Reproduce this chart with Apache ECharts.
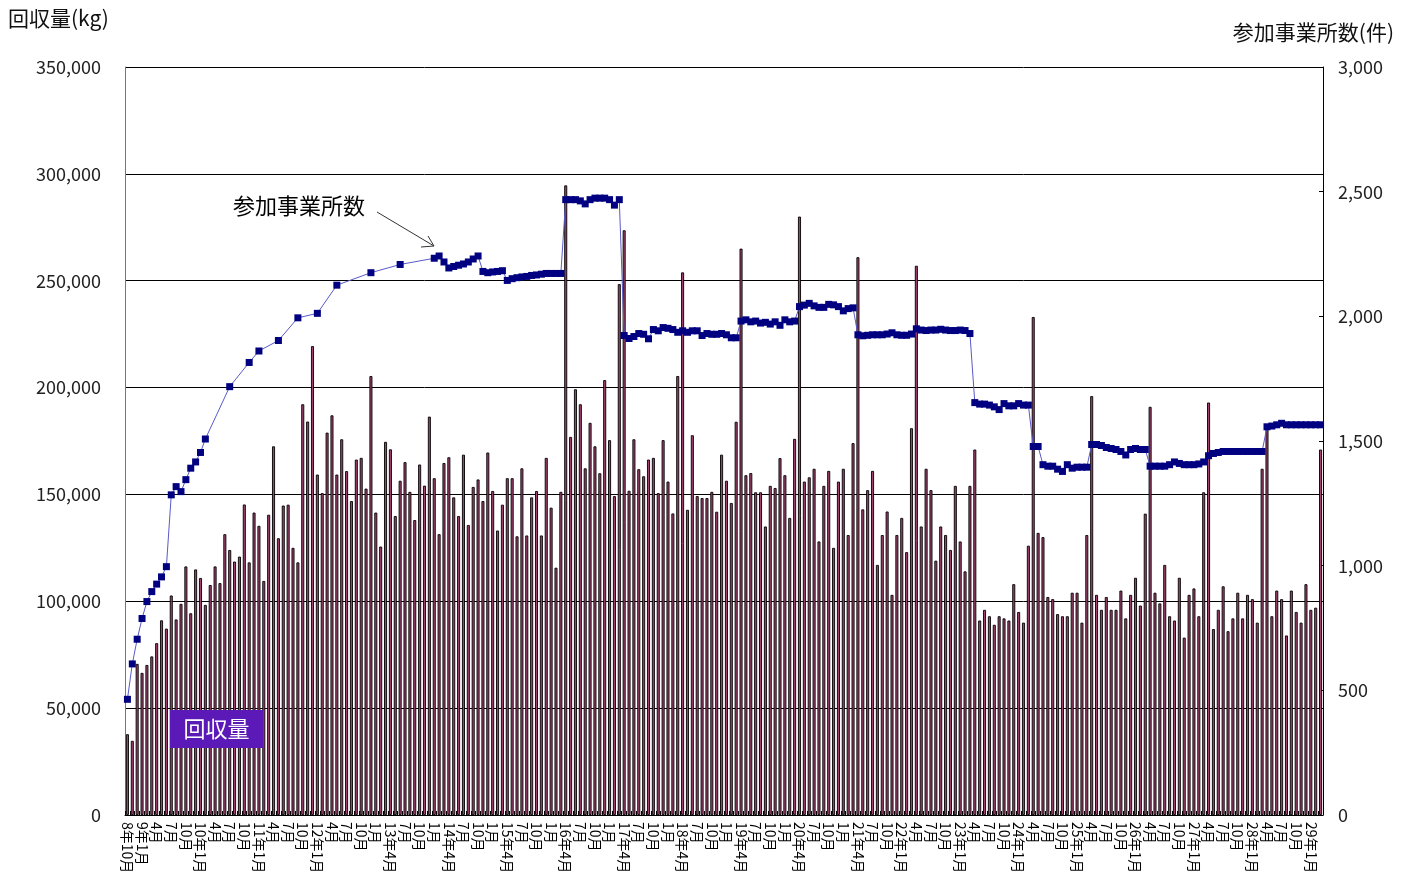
<!DOCTYPE html>
<html><head><meta charset="utf-8">
<script src="https://cdn.jsdelivr.net/npm/echarts@6/dist/echarts.min.js"></script>
<style>html,body{margin:0;padding:0;background:#fff}#c{width:1413px;height:893px}</style>
</head><body><div id="c"></div>
<script>
// Tick labels shown every 3 months (from 平成8年10月)
const tickLabels = [
 "8年10月",
 "9年1月","4月","7月","10月",
 "10年1月","4月","7月","10月",
 "11年1月","4月","7月","10月",
 "12年1月","4月","7月","10月",
 "1月","13年4月","7月","10月",
 "1月","14年4月","7月","10月",
 "1月","15年4月","7月","10月",
 "1月","16年4月","7月","10月",
 "1月","17年4月","7月","10月",
 "1月","18年4月","7月","10月",
 "1月","19年4月","7月","10月",
 "1月","20年4月","7月","10月",
 "1月","21年4月","7月","10月",
 "22年1月","4月","7月","10月",
 "23年1月","4月","7月","10月",
 "24年1月","4月","7月","10月",
 "25年1月","4月","7月","10月",
 "26年1月","4月","7月","10月",
 "27年1月","4月","7月","10月",
 "28年1月","4月","7月","10月",
 "29年1月"
];

// 回収量 (kg), monthly
const recovered = [
 37800,34700,70700,66500,70200,74200,80400,91100,87200,102700,
 91500,98800,116300,94400,114900,110900,98300,107600,116300,108500,
 131400,124000,118600,120900,145300,118200,141500,135300,109500,140500,
 172500,129500,144800,145200,125000,118200,192200,184100,219400,159300,
 150600,178900,187000,159300,175800,160900,146900,166300,167100,152700,
 205400,141500,125600,174600,171100,139900,156400,165100,151200,138000,
 164000,154100,186400,157600,131400,164700,167400,148600,139900,168600,
 135700,153500,157000,146900,169600,151600,133100,145200,157600,157600,
 130400,162200,130800,148600,151600,130800,167100,143800,115700,151200,
 294600,176900,199200,192200,162200,183500,172500,159900,203500,175400,
 149200,248400,273600,151700,175800,161800,158500,166300,167100,150600,
 175400,156000,141100,205400,253900,142800,177700,149200,148300,148300,
 151200,141900,168600,156400,146000,184000,265000,159000,160000,151000,
 151000,135000,154000,153000,167000,159000,139000,176000,280000,156000,
 158000,162000,128000,154000,161000,125000,156000,162000,131000,174000,
 261000,143000,152000,161000,117000,131000,142000,103000,131000,139000,
 123000,181000,257000,135000,162000,152000,119000,135000,131000,124000,
 154000,128000,114000,154000,171000,91000,96000,93000,89000,93000,
 92000,91000,108000,95000,90000,126000,233000,132000,130000,102000,
 101000,94000,93000,93000,104000,104000,90000,131000,196000,103000,
 96000,102000,96000,96000,105000,92000,103000,111000,98000,141000,
 191000,104000,99000,117000,93000,91000,111000,83000,103000,106000,
 93000,151000,193000,87000,96000,107000,86000,92000,104000,92000,
 103000,101000,90000,162000,181000,93000,105000,101000,84000,105000,
 95000,90000,108000,96000,97000,171000
];

// 参加事業所数 (件), null where no value plotted
const participants = [
 464,606,705,788,856,896,926,955,996,1284,
 1317,1297,1345,1391,1416,1454,1508,null,null,null,
 null,1718,null,null,null,1815,null,1861,null,null,
 null,1903,null,null,null,1994,null,null,null,2012,
 null,null,null,2125,null,null,null,null,null,null,
 2175,null,null,null,null,null,2208,null,null,null,
 null,null,null,2233,2242,2218,2194,2200,2205,2210,
 2218,2230,2242,2180,2175,2178,2180,2183,2144,2151,
 2155,2158,2160,2164,2166,2169,2172,2172,2172,2172,
 2468,2468,2468,2463,2451,2468,2474,2474,2474,2468,
 2446,2468,1923,1911,1919,1931,1928,1910,1947,1942,
 1955,1952,1947,1936,1942,1936,1942,1942,1923,1931,
 1928,1928,1931,1926,1914,1914,1981,1986,1978,1981,
 1973,1976,1969,1978,1964,1986,1978,1981,2039,2045,
 2052,2042,2036,2036,2048,2046,2039,2022,2031,2034,
 1926,1922,1924,1926,1926,1926,1929,1934,1926,1924,
 1924,1929,1950,1945,1943,1945,1945,1948,1945,1943,
 1943,1945,1943,1931,1654,1648,1648,1644,1637,1626,
 1650,1641,1641,1650,1644,1644,1478,1478,1405,1399,
 1399,1387,1378,1405,1391,1395,1395,1395,1486,1486,
 1482,1474,1470,1466,1458,1444,1466,1470,1466,1466,
 1399,1399,1399,1399,1405,1416,1410,1405,1405,1405,
 1408,1416,1441,1450,1454,1458,1458,1458,1458,1458,
 1458,1458,1458,1458,1557,1560,1565,1571,1565,1565,
 1565,1565,1565,1565,1565,1565
];

const categories = recovered.map((_, i) => 'm' + i);
const FONT = '"Noto Sans CJK JP", "Noto Sans", sans-serif';

const chart = echarts.init(document.getElementById('c'), null, {renderer: 'canvas'});
chart.setOption({
  animation: false,
  backgroundColor: '#fff',
  grid: {left: 125, right: 90, top: 67, bottom: 78, containLabel: false},
  xAxis: {
    type: 'category', data: categories, boundaryGap: true,
    axisLine: {lineStyle: {color: '#000', width: 1}},
    axisTick: {show: true, inside: true, length: 4, interval: 0, lineStyle: {color: '#000'}},
    axisLabel: {
      interval: 2, rotate: -90, margin: 7, fontSize: 14, lineHeight: 14, color: '#000', fontFamily: FONT,
      showMinLabel: true, showMaxLabel: true, hideOverlap: false,
      formatter: (v, idx) => (idx % 3 === 0 ? tickLabels[idx / 3] : '')
    },
    splitLine: {show: false}
  },
  yAxis: [
    {
      type: 'value', min: 0, max: 350000, interval: 50000, position: 'left',
      axisLine: {show: true, lineStyle: {color: '#777'}},
      axisTick: {show: false},
      splitLine: {show: true, lineStyle: {color: '#000', width: 1}},
      axisLabel: {margin: 24, fontSize: 18, color: '#222', fontFamily: FONT,
        formatter: v => v.toLocaleString('en-US')}
    },
    {
      type: 'value', min: 0, max: 3000, interval: 500, position: 'right',
      axisLine: {show: true, lineStyle: {color: '#000'}},
      axisTick: {show: true, inside: true, length: 4, lineStyle: {color: '#000'}},
      splitLine: {show: false},
      axisLabel: {margin: 15, fontSize: 18, color: '#222', fontFamily: FONT,
        formatter: v => v.toLocaleString('en-US')}
    }
  ],
  series: [
    {
      name: '回収量', type: 'bar', yAxisIndex: 0, data: recovered, barWidth: 3,
      itemStyle: {color: '#a0426f', borderColor: '#000', borderWidth: 0.9}
    },
    {
      name: '参加事業所数', type: 'line', yAxisIndex: 1, data: participants, connectNulls: true,
      symbol: 'rect', symbolSize: 7, showAllSymbol: true, z: 5,
      itemStyle: {color: '#000080'},
      lineStyle: {color: '#5a5ac8', width: 1}
    }
  ],
  graphic: [
    {type: 'text', left: 8, top: 8, z: 100, style: {text: '回収量(kg)', font: '21px ' + FONT, fill: '#111'}},
    {type: 'text', right: 19, top: 22, z: 100, style: {text: '参加事業所数(件)', font: '21px ' + FONT, fill: '#111'}},
    {type: 'text', left: 233, top: 195, z: 100, style: {text: '参加事業所数', font: '22px ' + FONT, fill: '#000'}},
    {type: 'line', z: 100, shape: {x1: 377, y1: 212, x2: 434, y2: 246}, style: {stroke: '#333', lineWidth: 1}},
    {type: 'polyline', z: 100, shape: {points: [[428, 236], [434, 246], [421, 247]]}, style: {stroke: '#333', lineWidth: 1, fill: null}},
    {type: 'group', left: 170, top: 710, z: 100, children: [
      {type: 'rect', z: 100, shape: {x: 0, y: 0, width: 93, height: 38}, style: {fill: '#5b1ab8'}},
      {type: 'text', z: 101, x: 46.5, y: 19, style: {text: '回収量', font: '22px ' + FONT, fill: '#fff', align: 'center', verticalAlign: 'middle'}}
    ]}
  ]
});
</script>
</body></html>
